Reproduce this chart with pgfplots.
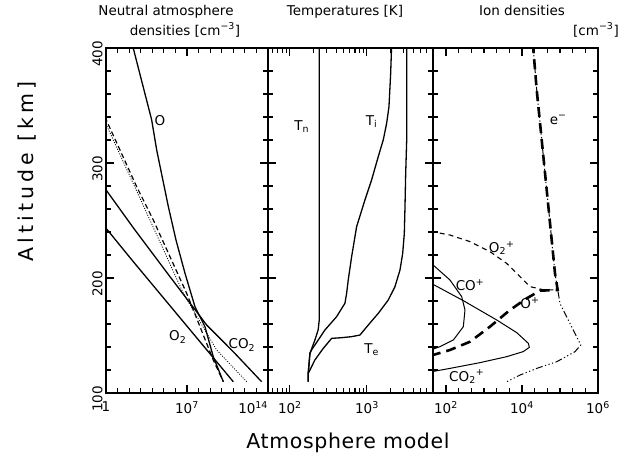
\documentclass[border=0pt]{standalone}
\usepackage{fontspec}
\setmainfont{DejaVu Sans}
\usepackage{pgfplots}
\pgfplotsset{compat=1.18}
\newcommand{\lbl}{\fontsize{13.5}{15}\selectfont}
\pgfplotsset{
  myframe/.style={
    scale only axis, anchor=south west, height=345pt,
    ymin=100, ymax=400,
    axis line style={line width=1.6pt},
    every tick/.style={line width=1.1pt, black},
    tick align=inside, xtick pos=both, ytick pos=both,
    major tick length=8pt, minor tick length=5pt,
    ytick={100,200,300,400}, minor ytick={120,140,160,180,220,240,260,280,320,340,360,380},
    yticklabels={}, tick label style={font=\lbl},
    xticklabel style={yshift=-5pt},
  },
  cur/.style={black, line width=1.3pt, no marks},
}
\begin{document}
\begin{tikzpicture}
\useasboundingbox (0pt,0pt) rectangle (625pt,-456pt);
% ---------- panel 1: neutral densities
\begin{axis}[xmode=log, myframe, at={(106pt,-393pt)}, width=162pt,
  xmin=1, xmax=1e14, xtick={1,1e7,1e14},
  xticklabels={1,10\textsuperscript{7},\llap{10\textsuperscript{14}}},
  minor xtick={10,100,1000,1e4,1e5,1e6,1e8,1e9,1e10,1e11,1e12,1e13},
  yticklabels={100,200,300,400},
  yticklabel style={rotate=90, anchor=south, xshift=-6pt}]
\addplot[cur] coordinates {(2.0e2,402) (8.9e3,337.4) (2.4e4,311.3) (2.45e5,262) (1.12e6,233) (6.76e6,204) (4.9e7,175) (3.55e8,157.7) (1.86e9,131.6) (1.38e10,109.8)};
\addplot[cur, line width=1.2pt, dash pattern=on 5pt off 3pt] coordinates {(0.8,340) (16.2,311.3) (447,279.4) (1.23e4,250.4) (3.39e5,218.5) (9.33e6,186.7) (1.32e8,157.7) (1.86e9,128.7) (1.38e10,109.8)};
\addplot[cur, line width=0.8pt, dash pattern=on 1pt off 1.5pt] coordinates {(0.8,336) (6.31e3,250.4) (4.79e6,186.7) (3.63e9,137.4) (1.45e12,109.8)};
\addplot[cur] coordinates {(0.8,278) (229,243.7) (1.74e5,205) (5.01e8,159.1) (1e11,135.9) (2.82e13,109.8)};
\addplot[cur] coordinates {(0.8,244.5) (229,214.2) (1.74e5,179.4) (1.32e8,144.6) (1e11,109.8)};
\node[font=\lbl] at (axis cs:4.68e4,337) {O};
\node[font=\lbl] at (axis cs:1.58e6,148.7) {O\textsubscript{2}};
\node[font=\lbl] at (axis cs:5.6e11,141.7) {CO\textsubscript{2}};
\end{axis}
% ---------- panel 2: temperatures
\begin{axis}[xmode=log, myframe, at={(268pt,-393pt)}, width=165pt,
  xmin=52, xmax=7200, xtick={100,1000},
  xticklabels={10\textsuperscript{2},10\textsuperscript{3}},
  minor xtick={60,70,80,90,200,300,400,500,600,700,800,900,2000,3000,4000,5000,6000,7000}]
\addplot[cur] coordinates {(173,109.8) (173,117) (182,134.5) (211,146) (233,155) (240,163) (240,402)};
\addplot[cur] coordinates {(173,109.8) (173,117) (182,134.5) (191,137.4) (285,154.8) (404,166.4) (518,178) (545,186.7) (572,198.3) (633,218.6) (735,244.7) (942,267.9) (1150,285.3) (1403,305.6) (1629,320.1) (1803,334.6) (1932,349.1) (2032,378.1) (2089,402)};
\addplot[cur] coordinates {(173,109.8) (173,117) (211,128.7) (271,138.8) (348,147.5) (469,148.1) (633,149) (811,150.4) (1040,159.1) (1403,169.3) (1892,180.9) (2310,192.5) (2685,207) (2911,221.5) (3055,238.9) (3118,262.1) (3183,291.1) (3281,320.1) (3281,402)};
\node[font=\lbl] at (axis cs:142,331.6) {T\textsubscript{n}};
\node[font=\lbl] at (axis cs:1150,336) {T\textsubscript{i}};
\node[font=\lbl] at (axis cs:1150,137.4) {T\textsubscript{e}};
\end{axis}
% ---------- panel 3: ion densities
\begin{axis}[xmode=log, myframe, at={(433pt,-393pt)}, width=165pt,
  xmin=45.5, xmax=1e6, xtick={100,1e4,1e6},
  xticklabels={10\textsuperscript{2},10\textsuperscript{4},10\textsuperscript{6}},
  minor xtick={215.4,464.2,1000,2154,4642,21544,46416,1e5,215443,464159}]
\addplot[cur, line width=1pt, dash pattern=on 7pt off 2.5pt on 1.2pt off 2.5pt on 1.2pt off 2.5pt on 1.2pt off 2.5pt] coordinates {(1.95e4,402) (2.44e4,363.5) (3.30e4,320.1) (4.47e4,276.5) (6.05e4,233) (7.38e4,204) (1e5,177.9) (1.83e5,160.5) (3.03e5,146.1) (3.51e5,141.7) (2.48e5,135.9) (8.18e4,127.2) (2.44e4,121.4) (8.85e3,115.6) (3.95e3,109.8)};
\addplot[cur, line width=2.6pt, dash pattern=on 10pt off 6pt] coordinates {(40,132.5) (127,137.4) (429,144.6) (1.44e3,157.7) (4.83e3,172.2) (1.33e4,182.3) (2.98e4,189) (8.7e4,189.6) (7.38e4,204) (6.05e4,233) (4.47e4,276.5) (3.30e4,320.1) (2.44e4,363.5) (1.95e4,402)};
\addplot[cur, line width=1.1pt, dash pattern=on 5pt off 4pt] coordinates {(40,240.5) (127,237.4) (429,231.6) (1.44e3,222.9) (3.95e3,212.7) (8.85e3,201.2) (1.63e4,192.5) (3.6e4,189.8) (8.7e4,189.6)};
\addplot[cur, line width=1pt] coordinates {(40,213) (127,198.3) (259,183.8) (316,172.2) (286,157.7) (156,146.1) (69.5,140.3) (40,137.5)};
\addplot[cur, line width=1pt] coordinates {(40,195.5) (286,180.3) (2.16e3,163.5) (7.26e3,152.5) (1.47e4,143.2) (1.56e4,139.7) (1.08e4,136) (3.95e3,131.6) (785,126.4) (127,121.4) (40,118.4)};
\node[font=\lbl] at (axis cs:2.92e3,225.8) {O\textsubscript{2}\textsuperscript{+}};
\node[font=\lbl] at (axis cs:429,193.9) {CO\textsuperscript{+}};
\node[font=\lbl] at (axis cs:1.62e4,178) {O\textsuperscript{+}};
\node[font=\lbl] at (axis cs:9.0e4,337.4) {e\textsuperscript{−}};
\node[font=\lbl] at (axis cs:351,114.2) {CO\textsubscript{2}\textsuperscript{+}};
\end{axis}
% ---------- titles
\node[font=\lbl, anchor=base] at (166pt,-15pt) {Neutral atmosphere};
\node[font=\lbl, anchor=base] at (185pt,-35pt) {densities [cm\textsuperscript{−3}]};
\node[font=\lbl, anchor=base] at (345pt,-15pt) {Temperatures [K]};
\node[font=\lbl, anchor=base] at (522pt,-15pt) {Ion densities};
\node[font=\lbl, anchor=base] at (596pt,-35pt) {[cm\textsuperscript{−3}]};
\node[font=\fontsize{20.5}{24}\selectfont\addfontfeature{LetterSpace=3}, anchor=base] at (348pt,-448pt) {Atmosphere model};
\node[font=\fontsize{20.5}{24}\selectfont\addfontfeature{LetterSpace=20}, anchor=base, rotate=90] at (33pt,-171.5pt) {Altitude [km]};
\end{tikzpicture}
\end{document}
